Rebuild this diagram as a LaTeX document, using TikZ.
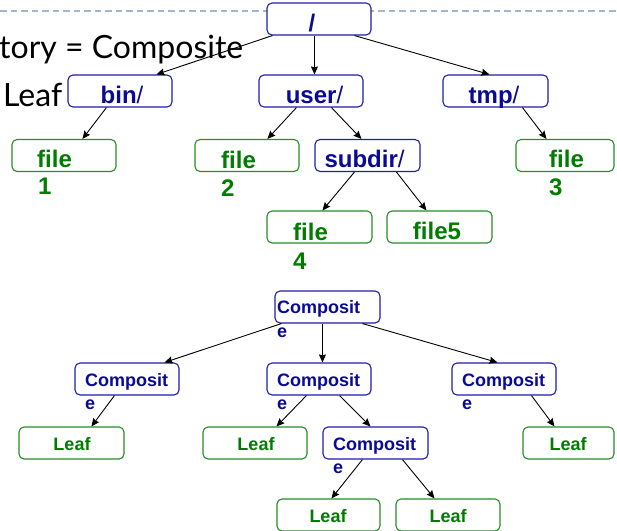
\documentclass[tikz,border=0pt]{standalone}
\usepackage{fontspec}
\setmainfont{Liberation Sans}
\newfontfamily\slidefont{Lato}
\usetikzlibrary{arrows.meta}
\definecolor{dirblue}{RGB}{10,10,150}
\definecolor{dirline}{RGB}{30,30,170}
\definecolor{filegreen}{RGB}{0,125,0}
\definecolor{fileline}{RGB}{40,140,40}
\definecolor{rulegray}{RGB}{160,182,205}
\tikzset{
  box/.style={rounded corners=5pt, line width=1.1pt, fill=white, inner sep=0pt,
    minimum height=32pt, minimum width=104pt},
  dirbox/.style={box, draw=dirline},
  filebox/.style={box, draw=fileline},
  bigtxt/.style={font=\fontsize{24}{27}\selectfont, inner sep=0pt},
  smalltxt/.style={font=\fontsize{18}{21}\selectfont\bfseries, inner sep=0pt},
  dirtxt/.style={bigtxt, text=dirblue},
  filetxt/.style={bigtxt, text=filegreen},
  comptxt/.style={smalltxt, text=dirblue, anchor=base west},
  leaftxt/.style={smalltxt, text=filegreen, anchor=base},
  slide/.style={font=\slidefont\fontsize{32}{36}\selectfont, inner sep=0pt, anchor=base west},
  arr/.style={-{Stealth[length=8pt,width=7pt,inset=1pt]}, line width=0.9pt}
}
\begin{document}
\begin{tikzpicture}[x=1pt,y=-1pt]
\useasboundingbox (0,0) rectangle (617,530);
\clip (0,0) rectangle (617,530);

% header rule
\draw[rulegray, line width=1.2pt, dash pattern=on 6.5pt off 4pt] (0,11) -- (617,11);

% slide text
\node[slide] (t1) at (-1,58) {tory = Composite};
\node[slide] (t2) at (3,106) {Leaf};

% ---------- directory tree ----------
\node[dirbox] (root) at (319,19) {};
\node[dirbox] (bin) at (120,91) {};
\node[dirbox] (user) at (311,91) {};
\node[dirbox, minimum width=105pt] (tmp) at (495.5,91) {};
\node[filebox] (file1) at (64,155.5) {};
\node[filebox] (file2) at (247,155.5) {};
\node[dirbox, minimum width=105pt] (subdir) at (367.5,155.5) {};
\node[filebox, minimum width=98pt] (file3) at (565,155.5) {};
\node[filebox, minimum width=105pt] (file4) at (319.5,227) {};
\node[filebox, minimum width=105pt] (file5) at (439.5,227) {};

\node[dirtxt, anchor=base] (rootl) at (312,31) {\bfseries /};
\node[dirtxt, anchor=base] (binl) at (122,103) {\textbf{bin}/};
\node[dirtxt, anchor=base] (userl) at (314.5,103) {\textbf{user}/};
\node[dirtxt, anchor=base] (tmpl) at (494,103) {\textbf{tmp}/};
\node[dirtxt, anchor=base] (subdirl) at (364.5,167) {\textbf{subdir}/};
\node[filetxt, anchor=base west] (file1a) at (37,167) {\bfseries file};
\node[filetxt, anchor=base west] (file1b) at (38,194) {\bfseries 1};
\node[filetxt, anchor=base west] (file2a) at (221,168) {\bfseries file};
\node[filetxt, anchor=base west] (file2b) at (221,196) {\bfseries 2};
\node[filetxt, anchor=base west] (file3a) at (549,167) {\bfseries file};
\node[filetxt, anchor=base west] (file3b) at (549,195) {\bfseries 3};
\node[filetxt, anchor=base west] (file4a) at (293,240) {\bfseries file};
\node[filetxt, anchor=base west] (file4b) at (293,269) {\bfseries 4};
\node[filetxt, anchor=base] (file5l) at (437,239) {\bfseries file5};

\draw[arr] ([xshift=6pt]root.south west) -- ([xshift=89pt]bin.north west);
\draw[arr] ([xshift=48pt]root.south west) -- ([xshift=56pt]user.north west);
\draw[arr] ([xshift=88pt]root.south west) -- ([xshift=47pt]tmp.north west);
\draw[arr] ([xshift=39pt]bin.south west) -- ([xshift=71pt]file1.north west);
\draw[arr] ([xshift=38pt]user.south west) -- ([xshift=73pt]file2.north west);
\draw[arr] ([xshift=73pt]user.south west) -- ([xshift=47pt]subdir.north west);
\draw[arr] ([xshift=80pt]tmp.south west) -- ([xshift=31pt]file3.north west);
\draw[arr] ([xshift=40pt]subdir.south west) -- ([xshift=56pt]file4.north west);
\draw[arr] ([xshift=82pt]subdir.south west) -- ([xshift=40pt]file5.north west);

% ---------- composite / leaf tree ----------
\node[dirbox, minimum width=105pt] (c0) at (327.5,307) {};
\node[dirbox] (c1) at (127,379) {};
\node[dirbox] (c2) at (319,379) {};
\node[dirbox] (c3) at (504,379) {};
\node[dirbox, minimum width=105pt] (c4) at (375.5,443) {};
\node[filebox, minimum width=105pt] (l1) at (71.5,443) {};
\node[filebox] (l2) at (255,443) {};
\node[filebox, minimum width=91pt] (l3) at (568.5,443) {};
\node[filebox, minimum width=103pt] (l4) at (328.5,515) {};
\node[filebox] (l5) at (448,515) {};

\node[comptxt] (c0a) at (277,313) {Composit};
\node[comptxt] (c0b) at (277,337) {e};
\node[comptxt] (c1a) at (85,386) {Composit};
\node[comptxt] (c1b) at (85,409) {e};
\node[comptxt] (c2a) at (277,386) {Composit};
\node[comptxt] (c2b) at (277,409) {e};
\node[comptxt] (c3a) at (462,386) {Composit};
\node[comptxt] (c3b) at (462,409) {e};
\node[comptxt] (c4a) at (333,450) {Composit};
\node[comptxt] (c4b) at (333,473) {e};
\node[leaftxt] (l1l) at (72,450) {Leaf};
\node[leaftxt] (l2l) at (256,450) {Leaf};
\node[leaftxt] (l3l) at (568,450) {Leaf};
\node[leaftxt] (l4l) at (328,522) {Leaf};
\node[leaftxt] (l5l) at (448,522) {Leaf};

\draw[arr] ([xshift=7pt]c0.south west) -- ([xshift=90pt]c1.north west);
\draw[arr] ([xshift=48pt]c0.south west) -- ([xshift=56pt]c2.north west);
\draw[arr] ([xshift=88pt]c0.south west) -- ([xshift=46pt]c3.north west);
\draw[arr] ([xshift=40pt]c1.south west) -- ([xshift=73pt]l1.north west);
\draw[arr] ([xshift=40pt]c2.south west) -- ([xshift=74pt]l2.north west);
\draw[arr] ([xshift=73pt]c2.south west) -- ([xshift=48pt]c4.north west);
\draw[arr] ([xshift=80pt]c3.south west) -- ([xshift=32pt]l3.north west);
\draw[arr] ([xshift=40pt]c4.south west) -- ([xshift=55pt]l4.north west);
\draw[arr] ([xshift=80pt]c4.south west) -- ([xshift=39pt]l5.north west);
\end{tikzpicture}
\end{document}
